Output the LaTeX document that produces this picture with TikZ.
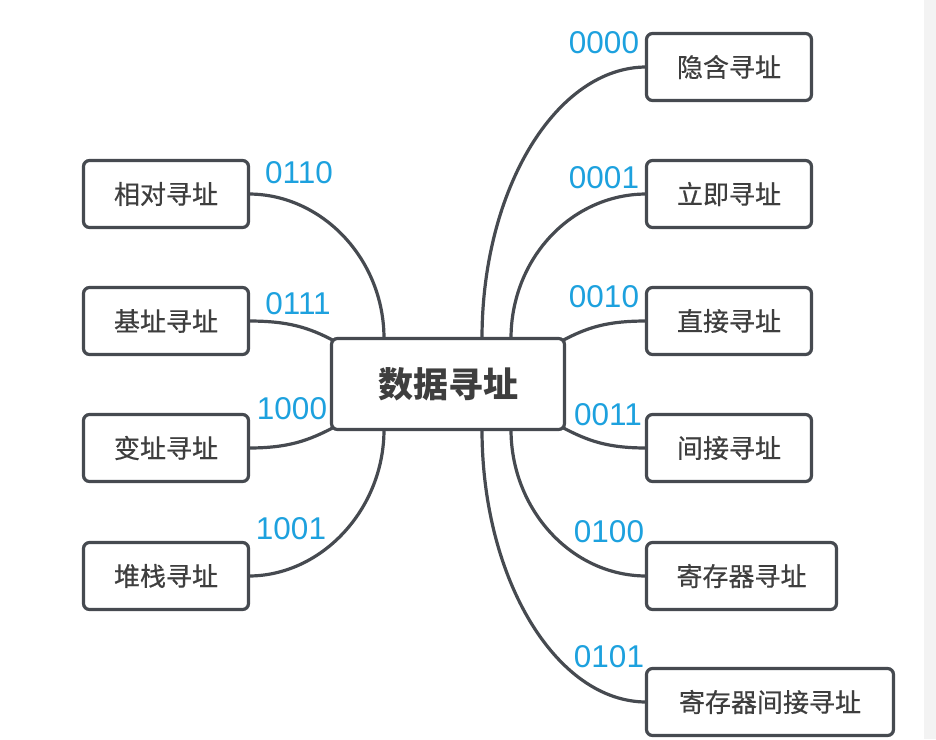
\documentclass[tikz,border=0pt]{standalone}
\usepackage{fontspec}
\usetikzlibrary{backgrounds}
\newfontfamily\cjk[FakeBold=0.5]{Noto Sans CJK SC}
\newfontfamily\cjkhub{Noto Sans CJK SC}
\newfontfamily\codefont{Liberation Sans}
\definecolor{edgegray}{HTML}{464A50}
\definecolor{labelgray}{HTML}{3E3E3E}
\definecolor{codeblue}{HTML}{1DA1DE}
\definecolor{stripgray}{HTML}{F3F3F3}
\begin{document}
\begin{tikzpicture}[x=1pt,y=-1pt,
  mode/.style={draw=edgegray, line width=3.2pt, rounded corners=6pt, fill=white,
    minimum height=67pt, inner sep=0pt, outer sep=0pt, text=labelgray,
    font=\cjk\fontsize{26}{30}\selectfont},
  hub/.style={mode, minimum width=233pt, minimum height=91pt,
    font=\cjkhub\bfseries\fontsize{35}{40}\selectfont},
  code/.style={text=codeblue, inner sep=0pt, font=\codefont\fontsize{31.5}{34}\selectfont},
  link/.style={draw=edgegray, line width=3.2pt}]
\useasboundingbox (0,0) rectangle (936,739);
\fill[stripgray] (924,0) rectangle (936,739);

% central node
\node[hub] (c) at (448,384) {数据寻址};

% right-hand branches
\node[mode, minimum width=165pt] (r1) at (729,67) {隐含寻址};
\node[mode, minimum width=165pt] (r2) at (729,194) {立即寻址};
\node[mode, minimum width=165pt] (r3) at (729,321) {直接寻址};
\node[mode, minimum width=165pt] (r4) at (729,448) {间接寻址};
\node[mode, minimum width=190pt] (r5) at (741.5,576) {寄存器寻址};
\node[mode, minimum width=247pt] (r6) at (770,702) {寄存器间接寻址};

% left-hand branches
\node[mode, minimum width=165pt] (l1) at (166,194) {相对寻址};
\node[mode, minimum width=165pt] (l2) at (166,321) {基址寻址};
\node[mode, minimum width=165pt] (l3) at (166,448) {变址寻址};
\node[mode, minimum width=165pt] (l4) at (166,576) {堆栈寻址};

% connectors, kept behind the boxes
\begin{scope}[on background layer]
\draw[link] ([xshift=34pt]c.north) .. controls +(0,-150) and +(-90,0) .. (r1.west);
\draw[link] ([xshift=63pt]c.north) .. controls +(0,-80) and +(-75,0) .. (r2.west);
\draw[link] ([xshift=-2pt,yshift=-2pt]c.north east) .. controls +(25,-13) and +(-40,0) .. (r3.west);
\draw[link] ([xshift=-2pt,yshift=2pt]c.south east) .. controls +(25,13) and +(-40,0) .. (r4.west);
\draw[link] ([xshift=63pt]c.south) .. controls +(0,80) and +(-75,0) .. (r5.west);
\draw[link] ([xshift=34pt]c.south) .. controls +(0,150) and +(-90,0) .. (r6.west);
\draw[link] ([xshift=-64pt]c.north) .. controls +(0,-80) and +(73,0) .. (l1.east);
\draw[link] ([xshift=2pt,yshift=-2pt]c.north west) .. controls +(-25,-13) and +(40,0) .. (l2.east);
\draw[link] ([xshift=2pt,yshift=2pt]c.south west) .. controls +(-25,13) and +(40,0) .. (l3.east);
\draw[link] ([xshift=-64pt]c.south) .. controls +(0,80) and +(73,0) .. (l4.east);
\end{scope}

% operation codes
\node[code] (k1) at (604,43) {0000};
\node[code] (k2) at (604,178) {0001};
\node[code] (k3) at (604,297) {0010};
\node[code] (k4) at (608,415) {0011};
\node[code] (k5) at (609,532) {0100};
\node[code] (k6) at (609,657) {0101};
\node[code] (k7) at (299,173) {0110};
\node[code] (k8) at (298,304) {0111};
\node[code] (k9) at (292,409) {1000};
\node[code] (k10) at (291,529) {1001};
\end{tikzpicture}
\end{document}
